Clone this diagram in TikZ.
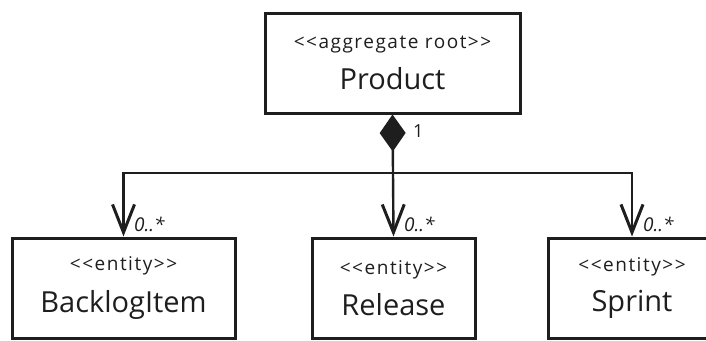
\documentclass[tikz,border=0pt]{standalone}
\usepackage{fontspec}
\setmainfont{Open Sans}
\usetikzlibrary{arrows.meta}
\definecolor{myink}{RGB}{30,30,30}
\newcommand{\stereotype}[1]{{\fontsize{19}{22}\selectfont\addfontfeatures{LetterSpace=8} <{}<#1>{}>}}
\newcommand{\classname}[1]{{\fontsize{29}{30}\selectfont #1}}

\begin{document}
\begin{tikzpicture}[x=1pt, y=-1pt,
    classbox/.style={draw=myink, line width=3pt, fill=white, align=center, inner sep=0pt, text=myink},
    link/.style={draw=myink, line width=2.4pt},
    mult/.style={font=\itshape\fontsize{19}{19}\selectfont, text=myink, inner sep=0pt, anchor=west}]
\useasboundingbox (0,0) rectangle (706,340);

% aggregate root
\node[classbox, minimum width=255pt, minimum height=100pt] (product) at (392.5,63)
  {\stereotype{aggregate root}\\[14pt]\classname{Product}};

% entities
\node[classbox, minimum width=223pt, minimum height=100pt] (backlog) at (123.5,288)
  {\stereotype{entity}\\[14pt]\classname{BacklogItem}};
\node[classbox, minimum width=163pt, minimum height=100pt] (release) at (393.5,288)
  {\stereotype{entity}\\[14pt]\classname{Release}};
\node[classbox, minimum width=168pt, minimum height=100pt] (sprint) at (632,288)
  {\stereotype{entity}\\[14pt]\classname{Sprint}};

% composition
\coordinate (fork) at (393,173);
\draw[link, {Diamond[length=37pt,width=26pt]}-] (product.south) -- (fork);
\draw[link, -{Straight Barb[length=28pt,width=22pt,line width=3pt]}] (fork) -- (release.north);
\draw[link, -{Straight Barb[length=28pt,width=22pt,line width=3pt]}] (fork) -| (backlog.north);
\draw[link, -{Straight Barb[length=28pt,width=22pt,line width=3pt]}] (fork) -| (sprint.north);

% multiplicities
\node[mult, font=\fontsize{18}{18}\selectfont] (one) at (413,131) {1};
\node[mult] (m1) at (134,224) {0..*};
\node[mult] (m2) at (404,224) {0..*};
\node[mult] (m3) at (643,224) {0..*};

\end{tikzpicture}
\end{document}
